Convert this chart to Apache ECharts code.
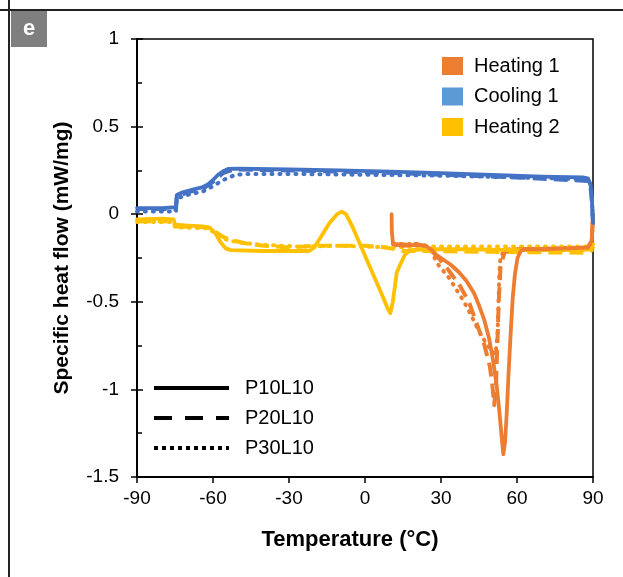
<!DOCTYPE html>
<html>
<head>
<meta charset="utf-8">
<script src="https://cdn.jsdelivr.net/npm/echarts@6/dist/echarts.min.js"></script>
<style>html,body{margin:0;padding:0;background:#fff}#c{width:623px;height:577px}</style>
</head>
<body>
<div id="c"></div>
<script>
// ---- data: [temperature °C, specific heat flow mW/mg] ----
const heating1_P10L10 = [[10.5,0.0],[10.6,-0.1],[11,-0.16],[12,-0.175],[15,-0.18],[20,-0.175],[24,-0.18],[26,-0.2],[28,-0.23],[31,-0.26],[34,-0.29],[37,-0.33],[40,-0.38],[43,-0.45],[45,-0.52],[47,-0.6],[49,-0.71],[50.5,-0.83],[52,-0.98],[53,-1.12],[54,-1.28],[54.6,-1.37],[55.3,-1.3],[56,-1.12],[56.7,-0.9],[57.5,-0.68],[58.3,-0.48],[59.2,-0.34],[60.2,-0.25],[61.5,-0.21],[63,-0.2],[70,-0.2],[80,-0.195],[88,-0.19],[89.5,-0.15],[90,0.0]];
const heating1_P20L10 = [[11,-0.17],[15,-0.175],[20,-0.17],[23,-0.18],[25,-0.2],[27,-0.22],[29.6,-0.26],[33,-0.32],[37.5,-0.41],[41,-0.5],[44,-0.62],[47,-0.74],[49.3,-0.87],[50.3,-0.98],[51,-1.09],[51.7,-0.98],[52.2,-0.76],[52.8,-0.5],[53.5,-0.3],[55,-0.22],[57,-0.2],[70,-0.2],[88,-0.2],[89.5,-0.15],[90,-0.02]];
const heating1_P30L10 = [[11,-0.17],[20,-0.17],[24,-0.18],[26,-0.21],[29,-0.29],[33,-0.36],[38.7,-0.49],[42,-0.58],[45.4,-0.68],[48,-0.74],[50,-0.78],[51.5,-0.8],[52.3,-0.7],[52.7,-0.5],[53,-0.35],[53.5,-0.24],[55,-0.21],[60,-0.2],[88,-0.19],[89.5,-0.15],[90,-0.02]];

const cooling1_P10L10 = [[90,-0.05],[89.6,0.08],[89,0.17],[88,0.205],[86,0.21],[70,0.215],[50,0.225],[30,0.235],[10,0.243],[-10,0.25],[-30,0.255],[-50,0.26],[-54,0.258],[-56,0.245],[-58,0.225],[-60,0.195],[-62,0.17],[-64,0.155],[-68,0.14],[-72,0.125],[-74.3,0.11],[-74.6,0.04],[-80,0.035],[-90,0.035]];
const cooling1_P20L10 = [[90,-0.05],[89.6,0.07],[89,0.16],[88,0.19],[80,0.195],[60,0.21],[30,0.225],[0,0.24],[-30,0.25],[-50,0.255],[-53,0.25],[-56,0.235],[-60,0.185],[-64,0.145],[-70,0.125],[-74.3,0.1],[-74.6,0.03],[-90,0.03]];
const cooling1_P30L10 = [[90,-0.05],[89.6,0.08],[89,0.17],[88,0.2],[60,0.21],[30,0.22],[0,0.225],[-30,0.23],[-48,0.23],[-52,0.22],[-56,0.195],[-60,0.16],[-64,0.13],[-70,0.11],[-74.3,0.09],[-74.6,0.015],[-90,0.015]];

const heating2_P10L10 = [[-90,-0.03],[-80,-0.025],[-75.5,-0.03],[-75,-0.06],[-70,-0.065],[-64,-0.07],[-61,-0.08],[-59,-0.11],[-57,-0.16],[-55,-0.195],[-53,-0.205],[-40,-0.21],[-30,-0.21],[-22,-0.21],[-20,-0.19],[-17,-0.12],[-14,-0.05],[-11,0.0],[-9.2,0.015],[-7.5,0.0],[-5,-0.07],[-2,-0.17],[1,-0.27],[4,-0.37],[7,-0.47],[9,-0.54],[10,-0.565],[11,-0.5],[12.5,-0.335],[13.8,-0.29],[15.8,-0.23],[18,-0.205],[25,-0.2],[40,-0.2],[60,-0.205],[80,-0.205],[89,-0.2],[90,-0.19]];
const heating2_P20L10 = [[-90,-0.04],[-75.5,-0.04],[-75,-0.07],[-62,-0.075],[-59,-0.1],[-56,-0.13],[-52,-0.15],[-46,-0.17],[-40,-0.18],[-30,-0.19],[-20,-0.18],[-10,-0.18],[0,-0.18],[8,-0.19],[12,-0.2],[15,-0.21],[25,-0.21],[50,-0.215],[88,-0.22],[90,-0.2]];
const heating2_P30L10 = [[-90,-0.045],[-75.5,-0.045],[-75,-0.075],[-62,-0.08],[-58,-0.12],[-54,-0.15],[-48,-0.165],[-40,-0.175],[-25,-0.185],[-10,-0.18],[0,-0.185],[10,-0.19],[20,-0.185],[40,-0.185],[88,-0.185],[90,-0.17]];

const xTicks = {min:-90, max:90, interval:30};
const yTicks = {min:-1.5, max:1, interval:0.5};
const eventNames = ['Heating 1','Cooling 1','Heating 2'];
const sampleNames = ['P10L10','P20L10','P30L10'];

// ---- styles ----
const lineColors = {'Heating 1':'#ED7D31','Cooling 1':'#4472C4','Heating 2':'#FFC000'};
const legendColors = {'Heating 1':'#ED7D31','Cooling 1':'#5B9BD5','Heating 2':'#FFC000'};
const dashTypes = {'P10L10':'solid','P20L10':[14,7],'P30L10':[1,7]};
const caps = {'P10L10':'round','P20L10':'butt','P30L10':'round'};
const widths = {'P10L10':3.8,'P20L10':4,'P30L10':4};
const FONT = 'Liberation Sans, Arial, sans-serif';

const dataMap = {
  'Heating 2':[heating2_P10L10,heating2_P20L10,heating2_P30L10],
  'Heating 1':[heating1_P10L10,heating1_P20L10,heating1_P30L10],
  'Cooling 1':[cooling1_P10L10,cooling1_P20L10,cooling1_P30L10]
};

const series = [];
['Heating 2','Heating 1','Cooling 1'].forEach(ev => {
  dataMap[ev].forEach((d,i) => {
    const s = sampleNames[i];
    series.push({
      name: ev + ' ' + s, type:'line', data:d, symbol:'none', smooth:false,
      lineStyle:{color:lineColors[ev], width:widths[s], type:dashTypes[s], cap:caps[s], join:'round'},
      z: 3 - i
    });
  });
});
// legend-only series
eventNames.forEach(ev => series.push({name:ev, type:'line', data:[], symbol:'none', color:legendColors[ev], lineStyle:{color:legendColors[ev]}}));
const legendDash = {'P10L10':'solid','P20L10':[18,13],'P30L10':[4,4]};
sampleNames.forEach(s => series.push({name:s, type:'line', data:[], symbol:'none', color:'#000', lineStyle:{color:'#000', width:4, type:legendDash[s], cap:'butt'}}));

const chart = echarts.init(document.getElementById('c'), null, {renderer:'canvas'});
chart.setOption({
  animation:false,
  backgroundColor:'#fff',
  textStyle:{fontFamily:FONT},
  grid:{left:137, right:30, top:39, bottom:100, show:true, borderColor:'#000', borderWidth:1.5},
  xAxis:{
    type:'value', min:xTicks.min, max:xTicks.max, interval:xTicks.interval,
    axisLine:{onZero:false, lineStyle:{color:'#000', width:2}},
    axisTick:{show:true, length:6, lineStyle:{color:'#000', width:1.5}},
    axisLabel:{color:'#000', fontSize:19, fontFamily:FONT, margin:12},
    splitLine:{show:false},
    name:'Temperature (°C)', nameLocation:'middle', nameGap:52,
    nameTextStyle:{color:'#000', fontSize:22, fontWeight:'bold', fontFamily:FONT, padding:[0,30,0,0]}
  },
  yAxis:[{
    type:'value', min:yTicks.min, max:yTicks.max, interval:yTicks.interval,
    axisLine:{show:true, onZero:false, lineStyle:{color:'#000', width:2}},
    axisTick:{show:true, length:6, lineStyle:{color:'#000', width:1.5}},
    axisLabel:{color:'#000', fontSize:19, fontFamily:FONT, margin:18},
    splitLine:{show:false},
    name:'Specific heat flow (mW/mg)', nameLocation:'middle', nameGap:64,
    nameTextStyle:{color:'#000', fontSize:21, fontWeight:'bold', fontFamily:FONT}
  },{
    type:'value', min:yTicks.min, max:yTicks.max, interval:yTicks.interval, position:'left', offset:0,
    axisLine:{show:false, onZero:false},
    axisTick:{show:true, inside:true, length:6, lineStyle:{color:'#000', width:1.5}},
    minorTick:{show:true, splitNumber:2, length:5, lineStyle:{color:'#000', width:1.5}},
    axisLabel:{show:false}, splitLine:{show:false}
  }],
  legend:[{
    orient:'vertical', left:442, top:56, padding:0,
    itemWidth:21, itemHeight:18, itemGap:10.5,
    textStyle:{color:'#000', fontSize:20, fontFamily:FONT, lineHeight:20, padding:[0,0,0,6]},
    data:eventNames.map(n => ({name:n, icon:'rect', itemStyle:{color:legendColors[n]}}))
  },{
    orient:'vertical', left:152, top:378, padding:0,
    itemWidth:75, itemHeight:20, itemGap:10,
    itemStyle:{color:'rgba(0,0,0,0)', borderWidth:0, opacity:0},
    lineStyle:{width:4, color:'#000', cap:'butt'},
    textStyle:{color:'#000', fontSize:20, fontFamily:FONT, lineHeight:20, padding:[0,0,0,11]},
    data:sampleNames
  }],
  graphic:[
    {type:'line', shape:{x1:9, y1:0, x2:9, y2:577}, style:{stroke:'#222', lineWidth:2}},
    {type:'line', shape:{x1:0, y1:10, x2:623, y2:10}, style:{stroke:'#222', lineWidth:2}},
    {type:'rect', shape:{x:11, y:11, width:36, height:36}, style:{fill:'#7f7f7f'}},
    {type:'text', x:29, y:29, style:{text:'e', fill:'#fff', font:'bold 22px Liberation Sans, Arial, sans-serif', align:'center', verticalAlign:'middle'}}
  ],
  series:series
});
</script>
</body>
</html>
